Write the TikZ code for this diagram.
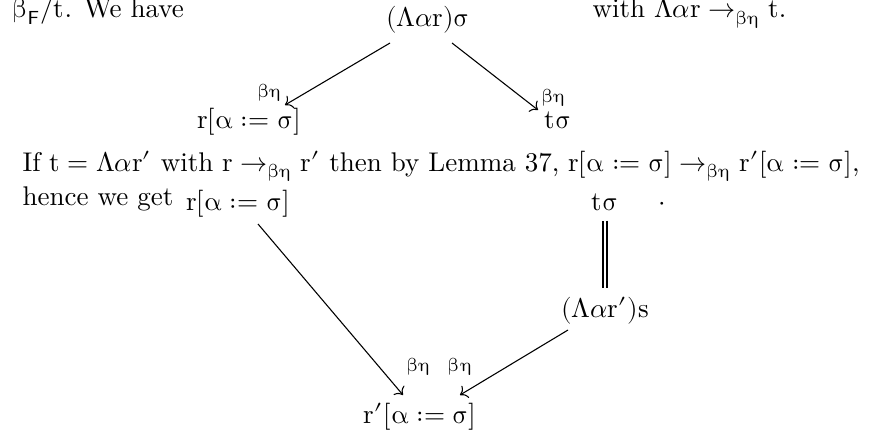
\documentclass[tikz,border=0pt]{standalone}
\usepackage[math-style=upright]{unicode-math}
\setmathfont{Latin Modern Math}
\usetikzlibrary{arrows.meta,calc,positioning}
\tikzset{
  term/.style={anchor=base,inner sep=1pt},
  prose/.style={anchor=base west,inner sep=0pt},
  redarr/.style={->,thin},
  lbl/.style={inner sep=1pt},
  eqline/.style={double,double distance=1.0pt,line width=0.6pt},
  every node/.style={font=\normalsize}
}
\newcommand{\bh}{\scriptstyle\beta\eta}
\begin{document}
\begin{tikzpicture}[x=0.37pt,y=-0.37pt]
\useasboundingbox (0,0) rectangle (876,432);
% first diagram
\node[prose] (intro) at (12,18) {$\beta_{\mathsf{F}}/t$. We have};
\node[term] (top) at (428,27) {$(\Lambda\symit{\alpha}r)\sigma$};
\node[prose] (with) at (592,18) {with $\Lambda\symit{\alpha}r\to_{\beta\eta}t$.};
\node[term] (lft) at (249,128) {$r[\alpha:=\sigma]$};
\node[term] (rgt) at (558,128) {$t\sigma$};
\draw[redarr] ($(top.base)+(-38,16)$) -- node[lbl,at end,above left]{$\bh$} ($(lft.base)+(36,-23)$);
\draw[redarr] ($(top.base)+(24,16)$) -- node[lbl,at end,above right]{$\bh$} ($(rgt.base)+(-20,-18)$);
% text between
\node[prose] (iftxt) at (22,171) {If $t=\Lambda\symit{\alpha}r'$ with $r\to_{\beta\eta}r'$ then by Lemma 37, $r[\alpha:=\sigma]\to_{\beta\eta}r'[\alpha:=\sigma]$,};
\node[prose] (hence) at (22,205) {hence we get};
% second diagram
\node[term] (lft2) at (238,210) {$r[\alpha:=\sigma]$};
\node[term] (rgt2) at (605,210) {$t\sigma$};
\node[term] (dot) at (662,210) {$\cdot$};
\node[term] (lam2) at (605,317) {$(\Lambda\symit{\alpha}r')s$};
\node[term] (bot) at (420,423) {$r'[\alpha:=\sigma]$};
\draw[eqline,shorten <=2.6pt,shorten >=2.2pt] (rgt2) -- (lam2);
\draw[redarr] ($(lft2.base)+(20,14)$) -- node[lbl,at end,above right=6pt and 0pt]{$\bh$} ($(bot.base)+(-17,-28)$);
\draw[redarr] ($(lam2.base)+(-37,13)$) -- node[lbl,at end,above=6pt]{$\bh$} ($(bot.base)+(40,-28)$);
\end{tikzpicture}
\end{document}
